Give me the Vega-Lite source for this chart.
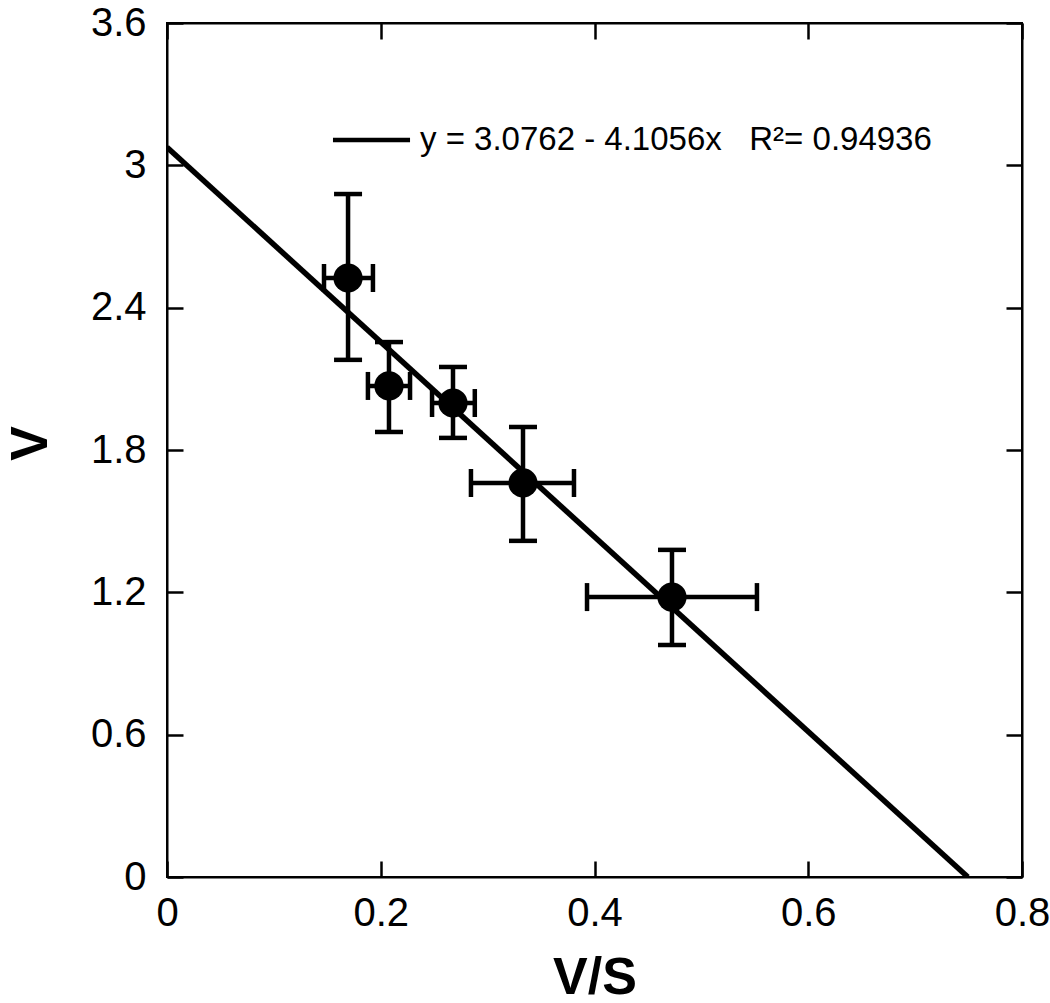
{
  "$schema": "https://vega.github.io/schema/vega-lite/v6.json",
  "autosize": "none",
  "width": 855,
  "height": 854,
  "padding": {"left": 167, "top": 23, "right": 28, "bottom": 126},
  "background": "white",
  "config": {
    "view": {"stroke": "black", "strokeWidth": 2},
    "font": "Liberation Sans"
  },
  "datasets": {
    "pts": [
      {"x": 0.1694, "y": 2.525, "xlo": 0.1469, "xhi": 0.1927, "ylo": 2.180, "yhi": 2.879},
      {"x": 0.2077, "y": 2.070, "xlo": 0.1880, "xhi": 0.2274, "ylo": 1.876, "yhi": 2.255},
      {"x": 0.2676, "y": 1.998, "xlo": 0.2480, "xhi": 0.2880, "ylo": 1.851, "yhi": 2.150},
      {"x": 0.3331, "y": 1.661, "xlo": 0.2844, "xhi": 0.3808, "ylo": 1.417, "yhi": 1.897},
      {"x": 0.4725, "y": 1.180, "xlo": 0.3930, "xhi": 0.5520, "ylo": 0.978, "yhi": 1.379}
    ],
    "fit": [
      {"x": 0, "y": 3.0762},
      {"x": 0.7493, "y": 0}
    ],
    "legend": [
      {"x1": 0.1553, "x2": 0.2274, "y": 3.107, "tx": 0.2367, "label": "y = 3.0762 - 4.1056x\u00a0\u00a0\u00a0R²= 0.94936"}
    ]
  },
  "resolve": {"scale": {"x": "independent", "y": "independent"}},
  "layer": [
    {
      "layer": [
        {
          "data": {"name": "fit"},
          "mark": {"type": "line", "color": "black", "strokeWidth": 5.5, "clip": true},
          "encoding": {
            "x": {
              "field": "x", "type": "quantitative",
              "scale": {"domain": [0, 0.8], "nice": false, "zero": false},
              "axis": {
                "orient": "bottom",
                "values": [0, 0.2, 0.4, 0.6, 0.8],
                "format": "~g",
                "grid": false,
                "domain": true, "domainColor": "black", "domainWidth": 2,
                "tickSize": -16, "tickWidth": 2.5, "tickColor": "black",
                "labelPadding": 32, "labelFontSize": 40, "labelColor": "black",
                "labelFont": "Liberation Sans", "labelFlush": false,
                "title": "V/S", "titleFontSize": 52, "titleFontWeight": "bold",
                "titleFont": "Liberation Sans", "titleColor": "black",
                "titleY": 116, "titleBaseline": "alphabetic"
              }
            },
            "y": {
              "field": "y", "type": "quantitative",
              "scale": {"domain": [0, 3.6], "nice": false, "zero": false},
              "axis": {
                "orient": "left",
                "values": [0, 0.6, 1.2, 1.8, 2.4, 3, 3.6],
                "format": "~g",
                "grid": false,
                "domain": true, "domainColor": "black", "domainWidth": 2,
                "tickSize": -16, "tickWidth": 2.5, "tickColor": "black",
                "labelPadding": 37, "labelFontSize": 40, "labelColor": "black",
                "labelFont": "Liberation Sans", "labelFlush": false, "labelOffset": 0,
                "title": "V", "titleFontSize": 52, "titleFontWeight": "bold",
                "titleFont": "Liberation Sans", "titleColor": "black",
                "titleX": -137, "titleY": 420, "titleBaseline": "middle", "titleAngle": -90
              }
            }
          }
        },
        {
          "data": {"name": "legend"},
          "mark": {"type": "rule", "color": "black", "strokeWidth": 4.5},
          "encoding": {
            "x": {"field": "x1", "type": "quantitative"},
            "x2": {"field": "x2"},
            "y": {"field": "y", "type": "quantitative"}
          }
        },
        {
          "data": {"name": "legend"},
          "mark": {"type": "text", "align": "left", "baseline": "middle", "fontSize": 33, "font": "Liberation Sans", "color": "black"},
          "encoding": {
            "x": {"field": "tx", "type": "quantitative"},
            "y": {"field": "y", "type": "quantitative"},
            "text": {"field": "label"}
          }
        },
        {
          "data": {"name": "pts"},
          "mark": {"type": "rule", "color": "black", "strokeWidth": 4.5},
          "encoding": {
            "x": {"field": "x", "type": "quantitative"},
            "y": {"field": "ylo", "type": "quantitative"},
            "y2": {"field": "yhi"}
          }
        },
        {
          "data": {"name": "pts"},
          "mark": {"type": "rule", "color": "black", "strokeWidth": 4.5},
          "encoding": {
            "x": {"field": "xlo", "type": "quantitative"},
            "x2": {"field": "xhi"},
            "y": {"field": "y", "type": "quantitative"}
          }
        },
        {
          "data": {"name": "pts"},
          "mark": {"type": "point", "shape": "M-1,0L1,0", "size": 784, "stroke": "black", "strokeWidth": 4.5, "filled": false, "opacity": 1},
          "encoding": {
            "x": {"field": "x", "type": "quantitative"},
            "y": {"field": "ylo", "type": "quantitative"}
          }
        },
        {
          "data": {"name": "pts"},
          "mark": {"type": "point", "shape": "M-1,0L1,0", "size": 784, "stroke": "black", "strokeWidth": 4.5, "filled": false, "opacity": 1},
          "encoding": {
            "x": {"field": "x", "type": "quantitative"},
            "y": {"field": "yhi", "type": "quantitative"}
          }
        },
        {
          "data": {"name": "pts"},
          "mark": {"type": "point", "shape": "M0,-1L0,1", "size": 784, "stroke": "black", "strokeWidth": 4.5, "filled": false, "opacity": 1},
          "encoding": {
            "x": {"field": "xlo", "type": "quantitative"},
            "y": {"field": "y", "type": "quantitative"}
          }
        },
        {
          "data": {"name": "pts"},
          "mark": {"type": "point", "shape": "M0,-1L0,1", "size": 784, "stroke": "black", "strokeWidth": 4.5, "filled": false, "opacity": 1},
          "encoding": {
            "x": {"field": "xhi", "type": "quantitative"},
            "y": {"field": "y", "type": "quantitative"}
          }
        },
        {
          "data": {"name": "pts"},
          "mark": {"type": "circle", "size": 855, "color": "black", "opacity": 1},
          "encoding": {
            "x": {"field": "x", "type": "quantitative"},
            "y": {"field": "y", "type": "quantitative"}
          }
        }
      ]
    },
    {
      "data": {"name": "fit"},
      "mark": {"type": "line", "opacity": 0},
      "encoding": {
        "x": {
          "field": "x", "type": "quantitative",
          "scale": {"domain": [0, 0.8], "nice": false, "zero": false},
          "axis": {
            "orient": "top", "values": [0, 0.2, 0.4, 0.6, 0.8], "labels": false, "title": null, "grid": false,
            "domain": true, "domainColor": "black", "domainWidth": 2,
            "tickSize": -16, "tickWidth": 2.5, "tickColor": "black"
          }
        },
        "y": {
          "field": "y", "type": "quantitative",
          "scale": {"domain": [0, 3.6], "nice": false, "zero": false},
          "axis": {
            "orient": "right", "values": [0, 0.6, 1.2, 1.8, 2.4, 3, 3.6], "labels": false, "title": null, "grid": false,
            "domain": true, "domainColor": "black", "domainWidth": 2,
            "tickSize": -16, "tickWidth": 2.5, "tickColor": "black"
          }
        }
      }
    }
  ]
}
